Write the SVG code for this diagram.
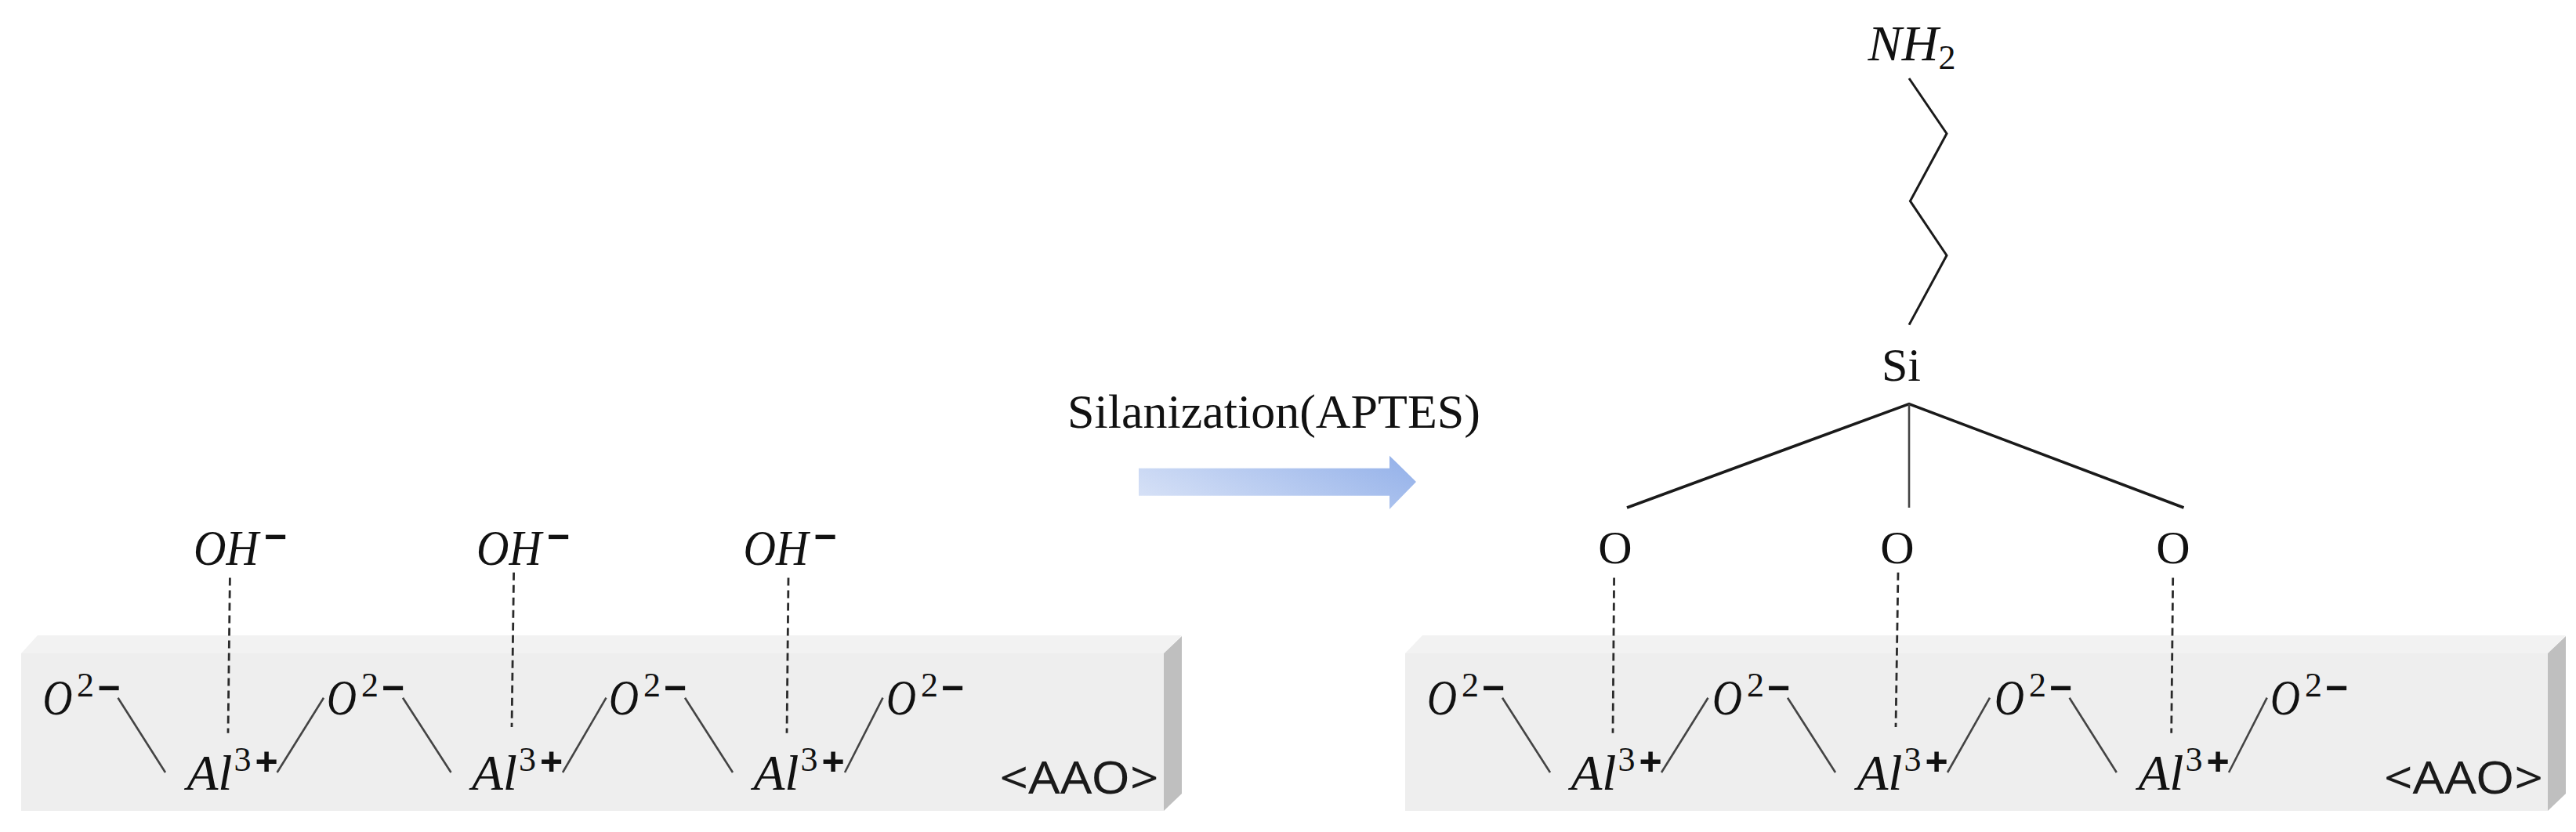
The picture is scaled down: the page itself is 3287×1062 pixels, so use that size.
<svg xmlns="http://www.w3.org/2000/svg" width="3287" height="1062" viewBox="0 0 3287 1062">
<style>
text{fill:#111;font-family:"Liberation Serif",serif}
.m{font-size:63px;font-style:italic}
.s{font-size:44px;font-style:normal}
.p{font-family:"Liberation Sans",sans-serif;font-size:50px;font-style:normal;font-weight:700}
.u{font-size:60px}
.aao{font-family:"Noto Sans","Liberation Sans",sans-serif;font-size:57px;fill:#1a1a1a}
.front{fill:#eeeeee}.top{fill:#f2f2f2}.side{fill:#bfbfbf}
.b{stroke:#444;stroke-width:2.6;fill:none}
.d{stroke:#2a2a2a;stroke-width:2.8;stroke-dasharray:10 6;fill:none}
.k{stroke:#1a1a1a;stroke-width:3;fill:none;stroke-linejoin:miter}
.t{stroke:#1a1a1a;stroke-width:3.6;fill:none}
</style>
<defs>
<linearGradient id="ag" x1="0" y1="0.7" x2="1" y2="0.3"><stop offset="0" stop-color="#d5e0f6"/><stop offset="1" stop-color="#98b4ea"/></linearGradient>
</defs>
<g id="substrate-left">
<polygon class="top" points="27,834 48,811 1508,811 1485,834"/>
<rect class="front" x="27" y="834" width="1458" height="201"/>
<polygon class="side" points="1485,834 1508,812 1508,1013 1485,1035"/>
</g>
<g id="substrate-right">
<polygon class="top" points="1793,834 1815,811 3274,811 3251,834"/>
<rect class="front" x="1793" y="834" width="1458" height="201"/>
<polygon class="side" points="3251,834 3274,812 3274,1013 3251,1035"/>
</g>
<g id="connectors">
<path class="b" d="M150.5 890.7L211 986M353.6 986L413 890.7M514 890.7L575.5 986M718 986L773.5 890.7M874 890.7L935 986M1078 986L1126.5 890.7"/>
<path class="d" d="M293.4 737.5L291 935.7M655.6 730.7L653 928M1006 737.5L1004 935.7"/>
<path class="b" d="M1917 890.7L1978 986M2120 986L2179.5 890.7M2281 890.7L2342 986M2485 986L2539 890.7M2640.6 890.7L2700.8 986M2844 986L2892.7 890.7"/>
<path class="d" d="M2059.6 737.5L2058 935.7M2422 730.7L2419 928M2772.7 737.5L2770.7 935.7"/>
<path class="k" d="M2436 100L2484 170.5L2437.4 256.7L2484 326L2436 414.6"/>
<path class="t" d="M2076 648L2436 515.6L2786.5 648"/>
<path class="b" d="M2436 515.6V648"/>
</g>
<g id="reaction-arrow">
<polygon fill="url(#ag)" points="1453,597.7 1773,597.7 1773,581.7 1807,615 1773,650 1773,632.7 1453,632.7"/>
<text id="arrow-label" x="1362" y="545.7" font-size="62">Silanization(APTES)</text>
</g>
<g id="left-o1"><text class="m" x="54.5" y="912"><tspan textLength="38" lengthAdjust="spacingAndGlyphs">O</tspan><tspan class="s" x="98" y="889">2</tspan><tspan class="p" x="124.5" y="894.5">−</tspan></text></g>
<g id="left-o2"><text class="m" x="417" y="912"><tspan textLength="38" lengthAdjust="spacingAndGlyphs">O</tspan><tspan class="s" x="461" y="889">2</tspan><tspan class="p" x="487" y="894.5">−</tspan></text></g>
<g id="left-o3"><text class="m" x="777" y="912"><tspan textLength="38" lengthAdjust="spacingAndGlyphs">O</tspan><tspan class="s" x="821" y="889">2</tspan><tspan class="p" x="847" y="894.5">−</tspan></text></g>
<g id="left-o4"><text class="m" x="1131" y="912"><tspan textLength="38" lengthAdjust="spacingAndGlyphs">O</tspan><tspan class="s" x="1175" y="889">2</tspan><tspan class="p" x="1201" y="894.5">−</tspan></text></g>
<g id="left-al1"><text class="m" x="238.5" y="1007.7"><tspan textLength="58" lengthAdjust="spacingAndGlyphs">Al</tspan><tspan class="s" x="298.5" y="984">3</tspan><tspan class="p" x="325.5" y="989">+</tspan></text></g>
<g id="left-al2"><text class="m" x="602" y="1007.7"><tspan textLength="58" lengthAdjust="spacingAndGlyphs">Al</tspan><tspan class="s" x="662" y="984">3</tspan><tspan class="p" x="689" y="989">+</tspan></text></g>
<g id="left-al3"><text class="m" x="961.5" y="1007.7"><tspan textLength="58" lengthAdjust="spacingAndGlyphs">Al</tspan><tspan class="s" x="1021.5" y="984">3</tspan><tspan class="p" x="1048.5" y="989">+</tspan></text></g>
<g id="left-oh1"><text class="m" x="247" y="721"><tspan textLength="83" lengthAdjust="spacingAndGlyphs">OH</tspan><tspan class="p" x="337" y="702">−</tspan></text></g>
<g id="left-oh2"><text class="m" x="608" y="721"><tspan textLength="83" lengthAdjust="spacingAndGlyphs">OH</tspan><tspan class="p" x="698" y="702">−</tspan></text></g>
<g id="left-oh3"><text class="m" x="948.5" y="721"><tspan textLength="83" lengthAdjust="spacingAndGlyphs">OH</tspan><tspan class="p" x="1038.5" y="702">−</tspan></text></g>
<g id="left-aao"><text class="aao" x="1275.5" y="1012.7" textLength="203" lengthAdjust="spacingAndGlyphs">&lt;AAO&gt;</text></g>
<g id="right-o1"><text class="m" x="1821" y="912"><tspan textLength="38" lengthAdjust="spacingAndGlyphs">O</tspan><tspan class="s" x="1865" y="889">2</tspan><tspan class="p" x="1891" y="894.5">−</tspan></text></g>
<g id="right-o2"><text class="m" x="2185" y="912"><tspan textLength="38" lengthAdjust="spacingAndGlyphs">O</tspan><tspan class="s" x="2229" y="889">2</tspan><tspan class="p" x="2255" y="894.5">−</tspan></text></g>
<g id="right-o3"><text class="m" x="2545" y="912"><tspan textLength="38" lengthAdjust="spacingAndGlyphs">O</tspan><tspan class="s" x="2589" y="889">2</tspan><tspan class="p" x="2615" y="894.5">−</tspan></text></g>
<g id="right-o4"><text class="m" x="2897" y="912"><tspan textLength="38" lengthAdjust="spacingAndGlyphs">O</tspan><tspan class="s" x="2941" y="889">2</tspan><tspan class="p" x="2967" y="894.5">−</tspan></text></g>
<g id="right-al1"><text class="m" x="2004.5" y="1007.7"><tspan textLength="58" lengthAdjust="spacingAndGlyphs">Al</tspan><tspan class="s" x="2064.5" y="984">3</tspan><tspan class="p" x="2091.5" y="989">+</tspan></text></g>
<g id="right-al2"><text class="m" x="2369.5" y="1007.7"><tspan textLength="58" lengthAdjust="spacingAndGlyphs">Al</tspan><tspan class="s" x="2429.5" y="984">3</tspan><tspan class="p" x="2456.5" y="989">+</tspan></text></g>
<g id="right-al3"><text class="m" x="2728.5" y="1007.7"><tspan textLength="58" lengthAdjust="spacingAndGlyphs">Al</tspan><tspan class="s" x="2788.5" y="984">3</tspan><tspan class="p" x="2815.5" y="989">+</tspan></text></g>
<g id="right-aao"><text class="aao" x="3042" y="1012.7" textLength="203" lengthAdjust="spacingAndGlyphs">&lt;AAO&gt;</text></g>
<g id="oxygen-1"><text class="u" x="2061" y="719" text-anchor="middle">O</text></g>
<g id="oxygen-2"><text class="u" x="2421" y="719" text-anchor="middle">O</text></g>
<g id="oxygen-3"><text class="u" x="2772.8" y="719" text-anchor="middle">O</text></g>
<g id="silicon"><text class="u" x="2426" y="486" text-anchor="middle" font-size="58">Si</text></g>
<g id="amine"><text class="m" x="2383.5" y="77"><tspan textLength="90" lengthAdjust="spacingAndGlyphs">NH</tspan><tspan class="s" x="2473.5" y="88">2</tspan></text></g>
</svg>
